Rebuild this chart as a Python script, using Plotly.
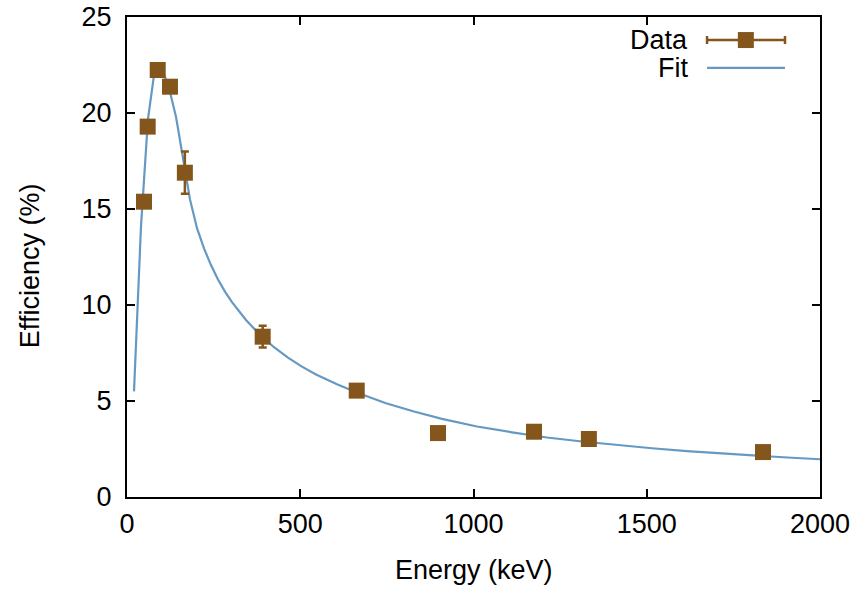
import plotly.graph_objects as go

# Measured data points
energy = [49, 59.7, 88.6, 124, 167, 391.6, 663, 897.5, 1174.6, 1333, 1835.5]
efficiency = [15.38, 19.29, 22.24, 21.37, 16.89, 8.35, 5.54, 3.33, 3.40, 3.02, 2.34]
eff_err = [0.2, 0.2, 0.2, 0.2, 1.1, 0.57, 0.2, 0.2, 0.2, 0.2, 0.2]

# Fit curve (at sample energies)
fit_energy = [20.2, 40.4, 60.6, 80.8, 101, 121.2, 141.4, 161.6, 181.8, 202, 222.2, 242.4,
              262.6, 282.8, 303, 343.4, 383.8, 424.2, 464.6, 505, 545.5, 606, 666.7, 747.5,
              828.3, 909, 1010, 1111, 1212, 1313, 1414, 1515, 1616, 1717, 1818, 1919, 2000]
fit_eff = [5.5, 14.1, 19.7, 22.35, 22.3, 21.3, 19.8, 17.6, 15.5, 14.0, 12.95, 12.08,
           11.33, 10.7, 10.15, 9.22, 8.45, 7.8, 7.26, 6.79, 6.38, 5.87, 5.42, 4.88,
           4.45, 4.07, 3.67, 3.37, 3.10, 2.89, 2.70, 2.54, 2.39, 2.26, 2.15, 2.045, 1.965]

x_ticks = [0, 500, 1000, 1500, 2000]
y_ticks = [0, 5, 10, 15, 20, 25]
legend_labels = ["Data", "Fit"]

BROWN = "#85561c"
BLUE = "#6699c2"
FONT = "Liberation Sans, Arial, sans-serif"
FS = 27

fig = go.Figure()
fig.add_trace(go.Scatter(
    x=fit_energy, y=fit_eff, mode="lines",
    line=dict(color=BLUE, width=2.2), showlegend=False, hoverinfo="skip"))
fig.add_trace(go.Scatter(
    x=energy, y=efficiency, mode="markers",
    marker=dict(symbol="square", size=16, color=BROWN),
    error_y=dict(type="data", array=eff_err, color=BROWN, thickness=2.5, width=4),
    showlegend=False))

axis_common = dict(
    showgrid=False, zeroline=False, showline=True, linecolor="black", linewidth=2,
    mirror="ticks", ticks="inside", ticklen=8, tickwidth=2, tickcolor="black",
    tickfont=dict(family=FONT, size=FS, color="black"), automargin=False,
)
fig.update_xaxes(range=[0, 2000], tickvals=x_ticks, ticktext=[str(v) for v in x_ticks],
                 ticklabelstandoff=2, **axis_common)
fig.update_yaxes(range=[0, 25], tickvals=y_ticks, ticktext=[str(v) for v in y_ticks],
                 ticklabelstandoff=8, **axis_common)

annotations = [
    dict(x=0.5, y=-0.152, xref="paper", yref="paper", text="Energy (keV)", showarrow=False,
         xanchor="center", yanchor="middle", font=dict(family=FONT, size=FS, color="black")),
    dict(x=-0.14, y=0.483, xref="paper", yref="paper", text="Efficiency (%)", showarrow=False,
         textangle=-90, xanchor="center", yanchor="middle",
         font=dict(family=FONT, size=FS, color="black")),
]

# Hand-drawn legend (text on the left, symbol on the right), in paper coordinates
lx0, lx1, lxm, ltext = 0.837, 0.9495, 0.893, 0.8124
ly = [0.952, 0.894]
shapes = []
for lbl, yy in zip(legend_labels, ly):
    annotations.append(dict(x=ltext, y=yy, xref="paper", yref="paper", text=lbl, showarrow=False,
                            xanchor="right", yanchor="middle",
                            font=dict(family=FONT, size=FS, color="black")))
# Data symbol: line with caps and square marker
shapes.append(dict(type="line", xref="paper", yref="paper", x0=lx0, x1=lx1, y0=ly[0], y1=ly[0],
                   line=dict(color=BROWN, width=2.5)))
for xc in (lx0, lx1):
    shapes.append(dict(type="line", xref="paper", yref="paper", xsizemode="pixel", ysizemode="pixel",
                       xanchor=xc, yanchor=ly[0], x0=0, x1=0, y0=-4, y1=4,
                       line=dict(color=BROWN, width=2.5)))
shapes.append(dict(type="rect", xref="paper", yref="paper", xsizemode="pixel", ysizemode="pixel",
                   xanchor=lxm, yanchor=ly[0], x0=-8, x1=8, y0=-8, y1=8,
                   fillcolor=BROWN, line=dict(width=0)))
shapes.append(dict(type="line", xref="paper", yref="paper", x0=lx0, x1=lx1, y0=ly[1], y1=ly[1],
                   line=dict(color=BLUE, width=2.2)))

fig.update_layout(
    width=861, height=592,
    margin=dict(l=127, r=41, t=17, b=95),
    plot_bgcolor="white", paper_bgcolor="white",
    shapes=shapes, annotations=annotations,
    showlegend=False,
)
fig.write_html("out.html")
